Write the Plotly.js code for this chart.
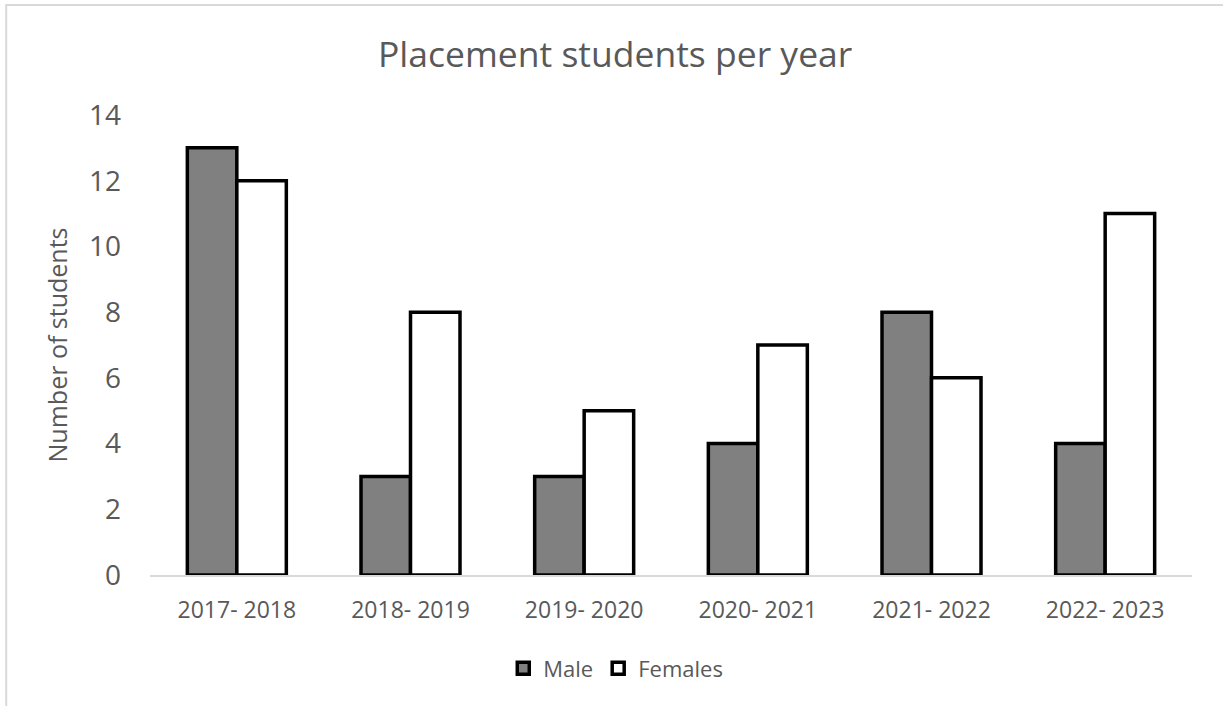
<!DOCTYPE html>
<html>
<head>
<meta charset="utf-8">
<script src="https://cdn.plot.ly/plotly-3.0.1.min.js"></script>
<style>html,body{margin:0;padding:0;background:#fff;}#chart{width:1223px;height:706px;}</style>
</head>
<body>
<div id="chart"></div>
<script>
const categories = ["2017- 2018", "2018- 2019", "2019- 2020", "2020- 2021", "2021- 2022", "2022- 2023"];
const maleValues = [13, 3, 3, 4, 8, 4];
const femaleValues = [12, 8, 5, 7, 6, 11];
const yTicks = [0, 2, 4, 6, 8, 10, 12, 14];

const font = "'Open Sans', sans-serif";
const traces = [
  {type: "bar", name: "Male", x: categories, y: maleValues,
   marker: {color: "#808080", line: {color: "#000000", width: 3.5}}},
  {type: "bar", name: "Females", x: categories, y: femaleValues,
   marker: {color: "#ffffff", line: {color: "#000000", width: 3.5}}}
];
const layout = {
  width: 1223, height: 706,
  margin: {l: 150, r: 31, t: 115, b: 131},
  paper_bgcolor: "#fff", plot_bgcolor: "#fff",
  font: {family: font, color: "#595959"},
  title: {text: "Placement students per year", font: {size: 35.5, color: "#595959", family: font},
          x: 0.503, xanchor: "center", y: 0.922, yanchor: "middle"},
  barmode: "group", bargap: 0.43, bargroupgap: 0,
  xaxis: {showgrid: false, showline: true, linecolor: "#d9d9d9", linewidth: 2,
          ticks: "", tickfont: {size: 23, color: "#595959"}, ticklabelstandoff: 13},
  yaxis: {range: [0, 14], tickvals: yTicks, showgrid: false, zeroline: false, showline: false,
          ticks: "", tickfont: {size: 28, color: "#595959"}, ticklabelstandoff: 28,
          title: {text: "Number of students", font: {size: 25, color: "#595959"}, standoff: 14}},
  legend: {orientation: "h", x: 0.447, xanchor: "center", y: -0.203, yanchor: "middle",
           font: {size: 22, color: "#595959"}, itemwidth: 30},
  shapes: [
    {type: "rect", xref: "paper", yref: "paper", x0: -0.138, x1: 1.2, y0: -0.4, y1: 1.2391,
     line: {color: "#d9d9d9", width: 2}, fillcolor: "rgba(0,0,0,0)", layer: "below"}
  ],
  showlegend: true
};
Plotly.newPlot("chart", traces, layout, {displayModeBar: false});
</script>
</body>
</html>
